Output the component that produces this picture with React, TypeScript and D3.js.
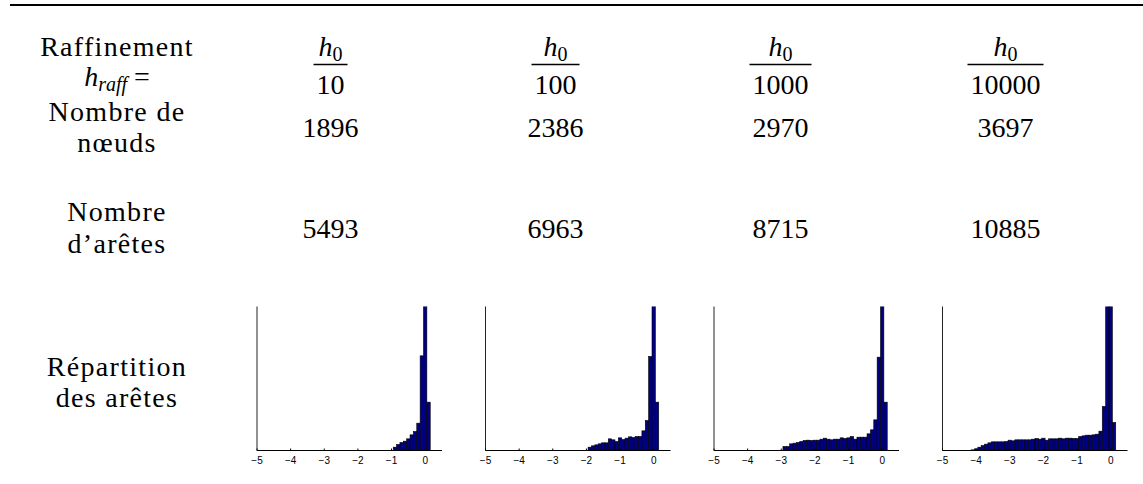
import React from 'react';
import * as d3 from 'd3';

// ---------- data ----------
const denominators = ['10', '100', '1000', '10000'];
const nodeCounts = [1896, 2386, 2970, 3697];
const edgeCounts = [5493, 6963, 8715, 10885];
const tickValues = [-5, -4, -3, -2, -1, 0];

// histogram bin centres start (bins of width 0.1)
const histStarts = [-0.9, -1.9, -2.9, -4.1];
const hist1 = [10, 18, 24, 28, 35, 47, 57, 82, 284, 620, 145];
const hist2 = [10, 14, 17, 20, 23, 23, 35, 32, 27, 38, 33, 37, 41, 39, 42, 42, 59, 90, 282, 640, 145];
const hist3 = [12, 12, 20, 22, 24, 27, 30, 31, 30, 31, 31, 34, 37, 34, 32, 34, 34, 38, 36, 38, 42, 34, 40, 40, 40, 50, 62, 92, 280, 660, 145];
const hist4 = [2, 5, 10, 15, 19, 23, 26, 26, 26, 26, 27, 31, 29, 32, 32, 32, 32, 32, 34, 36, 34, 37, 31, 35, 35, 35, 37, 35, 37, 37, 36, 36, 42, 44, 46, 46, 47, 49, 58, 132, 560, 434, 84];
const histograms = [hist1, hist2, hist3, hist4];
const yMax = 432;
const binWidth = 0.1;

const SERIF = "'Liberation Serif', 'Tinos', 'FreeSerif', 'DejaVu Serif'";
const SANS = "'Liberation Sans', Arial, Helvetica, sans-serif";
const FS = 28;

function Histogram({ data, start, left, idx }: { data: number[]; start: number; left: number; idx: number }) {
  const top = 306.5;
  const bottom = 450.5;
  const x = d3.scaleLinear().domain([-5, 0.5]).range([left, left + 185]);
  const y = d3.scaleLinear().domain([0, yMax]).range([bottom, top]);
  const clipId = `clip-h${idx}`;
  return (
    <g>
      <defs>
        <clipPath id={clipId}>
          <rect x={left} y={top} width={200} height={bottom - top} />
        </clipPath>
      </defs>
      <g clipPath={`url(#${clipId})`}>
        {data.map((v, i) => {
          const c = start + i * binWidth;
          const x0 = x(c - binWidth / 2);
          const x1 = x(c + binWidth / 2);
          return (
            <rect
              key={i}
              x={x0}
              y={y(v)}
              width={x1 - x0}
              height={bottom - y(v)}
              fill="#000080"
              stroke="#000"
              strokeWidth={0.6}
            />
          );
        })}
      </g>
      <line x1={left} x2={left} y1={top} y2={bottom} stroke="#222" strokeWidth={1} />
      <line x1={left} x2={x(0.5)} y1={bottom} y2={bottom} stroke="#000" strokeWidth={1} />
      {tickValues.map((t) => (
        <g key={t}>
          <line x1={x(t)} x2={x(t)} y1={bottom} y2={bottom - 2} stroke="#000" strokeWidth={1} />
          <text x={x(t)} y={464} textAnchor="middle" style={{ fontFamily: SANS, fontSize: 10 }} fill="#000">
            {t < 0 ? `\u2212${Math.abs(t)}` : `${t}`}
          </text>
        </g>
      ))}
    </g>
  );
}

// numbers / maths
const T = ({ x, y, children }: { x: number; y: number; children: React.ReactNode }) => (
  <text x={x} y={y} textAnchor="middle" style={{ fontFamily: SERIF, fontSize: FS }} fill="#000">
    {children}
  </text>
);
// row-label words (Computer Modern is wider than Times)
const W = ({ x, y, children }: { x: number; y: number; children: React.ReactNode }) => (
  <text x={x} y={y} textAnchor="middle" style={{ fontFamily: SERIF, fontSize: 28, letterSpacing: 1.3 }} fill="#000">
    {children}
  </text>
);

export default function App() {
  const col = d3.scaleBand<string>().domain(denominators).range([218, 1118]);
  const cx = (d: string) => (col(d) as number) + col.bandwidth() / 2;
  const labelX = 117;
  const histLeft = d3.scaleLinear().domain([0, 3]).range([257, 942.5]);
  return (
    <svg width={1143} height={484} style={{ position: 'absolute', left: 0, top: 0, background: '#fff' }}>
      <rect x={0} y={0} width={1143} height={484} fill="#fff" />
      <line x1={10} x2={1143} y1={5} y2={5} stroke="#000" strokeWidth={2.2} />

      {/* Row 1 */}
      <W x={labelX} y={56}>Raffinement</W>
      <T x={labelX} y={86}>
        <tspan fontStyle="italic">h</tspan>
        <tspan fontStyle="italic" style={{ fontSize: 20 }} dy={5}>raff</tspan>
        <tspan dy={-5}> =</tspan>
      </T>
      {denominators.map((d) => {
        const w = d.length * FS * 0.5 + 6;
        return (
          <g key={d}>
            <T x={cx(d)} y={56}>
              <tspan fontStyle="italic">h</tspan>
              <tspan style={{ fontSize: 20 }} dy={5}>0</tspan>
            </T>
            <line x1={cx(d) - w / 2} x2={cx(d) + w / 2} y1={64.5} y2={64.5} stroke="#000" strokeWidth={1.3} />
            <T x={cx(d)} y={94}>{d}</T>
          </g>
        );
      })}

      {/* Row 2 */}
      <W x={labelX} y={121}>Nombre de</W>
      <W x={labelX} y={152}>nœuds</W>
      {nodeCounts.map((v, i) => (
        <T key={i} x={cx(denominators[i])} y={137}>{v}</T>
      ))}

      {/* Row 3 */}
      <W x={labelX} y={221}>Nombre</W>
      <W x={labelX} y={253}>d’arêtes</W>
      {edgeCounts.map((v, i) => (
        <T key={i} x={cx(denominators[i])} y={238}>{v}</T>
      ))}

      {/* Row 4 */}
      <W x={labelX} y={376}>Répartition</W>
      <W x={labelX} y={407}>des arêtes</W>
      {histograms.map((h, i) => (
        <Histogram key={i} data={h} start={histStarts[i]} left={histLeft(i)} idx={i} />
      ))}
    </svg>
  );
}
